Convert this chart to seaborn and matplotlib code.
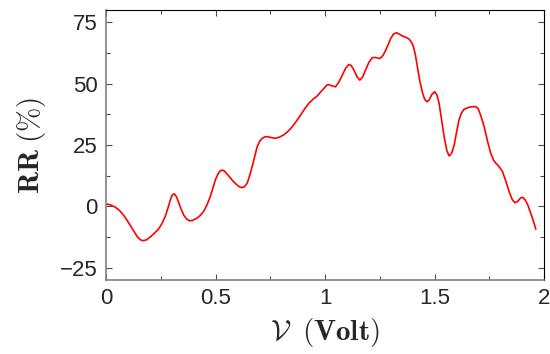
import matplotlib.pyplot as plt
import matplotlib.ticker as ticker
import seaborn as sns
import pandas as pd

# values
volt = [0.000, 0.020, 0.041, 0.060, 0.079, 0.100, 0.118, 0.143, 0.158, 0.170,
        0.185, 0.201, 0.220, 0.239, 0.255, 0.270, 0.283, 0.293, 0.302, 0.310,
        0.318, 0.326, 0.340, 0.354, 0.368, 0.381, 0.395, 0.415, 0.430, 0.445,
        0.460, 0.476, 0.488, 0.499, 0.510, 0.519, 0.529, 0.540, 0.560, 0.580,
        0.598, 0.610, 0.621, 0.633, 0.644, 0.655, 0.667, 0.679, 0.690, 0.702,
        0.713, 0.725, 0.735, 0.755, 0.773, 0.792, 0.811, 0.830, 0.850, 0.870,
        0.888, 0.907, 0.926, 0.945, 0.964, 0.980, 0.995, 1.008, 1.018, 1.030,
        1.048, 1.063, 1.079, 1.095, 1.109, 1.120, 1.132, 1.146, 1.159, 1.172,
        1.185, 1.200, 1.216, 1.232, 1.251, 1.265, 1.277, 1.290, 1.300, 1.313,
        1.327, 1.340, 1.353, 1.370, 1.384, 1.395, 1.404, 1.413, 1.422, 1.433,
        1.445, 1.455, 1.465, 1.475, 1.488, 1.501, 1.511, 1.521, 1.532, 1.544,
        1.556, 1.567, 1.578, 1.590, 1.601, 1.612, 1.623, 1.635, 1.655, 1.674,
        1.687, 1.699, 1.712, 1.727, 1.742, 1.757, 1.770, 1.780, 1.795, 1.811,
        1.826, 1.841, 1.855, 1.867, 1.880, 1.893, 1.902, 1.913, 1.926, 1.945,
        1.963]
rr = [1.0, 0.6, -0.3, -1.6, -3.5, -6.3, -8.9, -12.5, -13.7, -14.0,
      -13.6, -12.5, -11.0, -9.3, -7.0, -4.1, -0.5, 2.6, 4.6, 5.1,
      4.4, 2.9, -0.6, -3.5, -5.2, -5.9, -5.7, -4.8, -3.7, -2.1,
      0.5, 4.0, 7.5, 10.8, 13.0, 14.3, 14.8, 14.4, 12.4, 10.2,
      8.7, 7.9, 7.6, 8.1, 9.4, 12.3, 16.2, 20.5, 24.3, 26.6,
      27.7, 28.3, 28.4, 28.0, 27.7, 28.2, 29.1, 30.5, 32.4, 34.8,
      37.2, 39.7, 42.0, 43.6, 44.9, 46.6, 48.0, 49.4, 49.6, 49.1,
      48.7, 50.6, 53.5, 56.4, 57.8, 57.3, 55.5, 52.8, 51.4, 52.7,
      55.5, 58.6, 60.6, 60.6, 60.2, 61.5, 63.6, 66.2, 68.4, 70.2,
      70.7, 70.1, 69.4, 68.8, 68.1, 66.8, 65.0, 61.5, 56.8, 51.0,
      46.3, 43.6, 42.6, 43.2, 45.6, 46.7, 45.4, 42.0, 35.5, 28.4,
      22.8, 20.5, 21.6, 25.0, 30.3, 35.2, 38.0, 39.5, 40.3, 40.6,
      40.6, 39.9, 36.8, 32.4, 26.6, 21.6, 18.8, 17.6, 16.2, 14.1,
      10.2, 6.0, 2.8, 1.5, 2.0, 3.4, 3.7, 2.8, 0.6, -4.1,
      -9.3]

df = pd.DataFrame({"V": volt, "RR": rr})

sns.set_style("ticks")
plt.rcParams["font.family"] = ["Liberation Sans", "DejaVu Sans"]
plt.rcParams["mathtext.fontset"] = "cm"

fig = plt.figure(figsize=(5.5, 3.54), dpi=100)
ax = fig.add_axes([0.193, 0.209, 0.796, 0.763])

sns.lineplot(data=df, x="V", y="RR", ax=ax, color="red", linewidth=1.2)

ax.set_xlim(0, 2)
ax.set_ylim(-30, 80)
ax.xaxis.set_major_locator(ticker.MultipleLocator(0.5))
ax.xaxis.set_minor_locator(ticker.MultipleLocator(0.25))
ax.yaxis.set_major_locator(ticker.MultipleLocator(25))
ax.yaxis.set_minor_locator(ticker.MultipleLocator(12.5))
ax.xaxis.set_major_formatter(ticker.FuncFormatter(lambda v, p: f"{v:g}"))
ax.yaxis.set_major_formatter(ticker.FuncFormatter(
    lambda v, p: f"{v:g}".replace("-", "\u2212")))

ax.tick_params(which="both", direction="in", top=True, right=True,
               labelsize=16, color="0.3", width=0.8, pad=6)
ax.tick_params(which="major", length=4)
ax.tick_params(which="minor", length=3)

for side in ["left", "bottom"]:
    ax.spines[side].set_color("0.5")
    ax.spines[side].set_linewidth(1.2)
for side in ["top", "right"]:
    ax.spines[side].set_color("black")
    ax.spines[side].set_linewidth(0.8)

ax.set_xlabel(r"$\mathcal{V}\;\;(\mathbf{Volt})$", fontsize=21, labelpad=5)
ax.set_ylabel(r"$\mathbf{RR}\;(\%)$", fontsize=21, labelpad=9)

fig.savefig("out.png", dpi=100)
